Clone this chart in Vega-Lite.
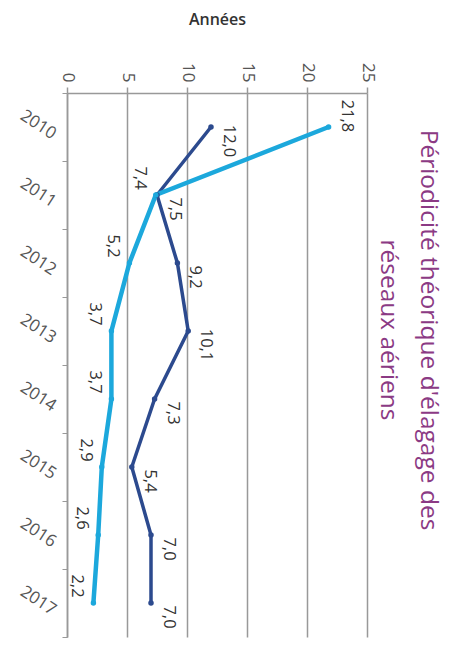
{
  "$schema": "https://vega.github.io/schema/vega-lite/v6.json",
  "width": 300,
  "height": 544,
  "autosize": {"type": "none"},
  "padding": {"left": 67, "top": 93, "right": 95, "bottom": 15},
  "background": "white",
  "config": {
    "locale": {"number": {"decimal": ",", "thousands": " ", "grouping": [3], "currency": ["", " €"]}},
    "view": {"stroke": null},
    "font": "Open Sans"
  },
  "title": {
    "text": ["Périodicité théorique d'élagage des", "réseaux aériens"],
    "orient": "right",
    "anchor": "middle",
    "fontSize": 24.5,
    "font": "Open Sans",
    "fontWeight": "normal",
    "color": "#8B3A84",
    "offset": -1,
    "lineHeight": 40,
    "dx": -35
  },
  "data": {
    "values": [
      {"year": "2010", "serie": "serie1", "value": 12.0},
      {"year": "2011", "serie": "serie1", "value": 7.5},
      {"year": "2012", "serie": "serie1", "value": 9.2},
      {"year": "2013", "serie": "serie1", "value": 10.1},
      {"year": "2014", "serie": "serie1", "value": 7.3},
      {"year": "2015", "serie": "serie1", "value": 5.4},
      {"year": "2016", "serie": "serie1", "value": 7.0},
      {"year": "2017", "serie": "serie1", "value": 7.0},
      {"year": "2010", "serie": "serie2", "value": 21.8},
      {"year": "2011", "serie": "serie2", "value": 7.4},
      {"year": "2012", "serie": "serie2", "value": 5.2},
      {"year": "2013", "serie": "serie2", "value": 3.7},
      {"year": "2014", "serie": "serie2", "value": 3.7},
      {"year": "2015", "serie": "serie2", "value": 2.9},
      {"year": "2016", "serie": "serie2", "value": 2.6},
      {"year": "2017", "serie": "serie2", "value": 2.2}
    ]
  },
  "encoding": {
    "x": {
      "field": "value",
      "type": "quantitative",
      "scale": {"domain": [0, 25], "nice": false},
      "axis": {
        "orient": "top",
        "values": [0, 5, 10, 15, 20, 25],
        "title": "Années",
        "titleFontSize": 16,
        "titleFontWeight": 600,
        "titleColor": "#333333",
        "titlePadding": 35,
        "labelAngle": 90,
        "labelAlign": "right",
        "labelBaseline": "middle",
        "labelFontSize": 17,
        "labelColor": "#555555",
        "labelPadding": 5,
        "tickSize": 6,
        "tickColor": "#999999",
        "tickWidth": 1.5,
        "domainColor": "#999999",
        "domainWidth": 1.5,
        "grid": true,
        "gridColor": "#999999",
        "gridWidth": 1.5
      }
    },
    "y": {
      "field": "year",
      "type": "nominal",
      "scale": {"type": "band", "paddingInner": 0, "paddingOuter": 0},
      "axis": {
        "orient": "left",
        "title": null,
        "labelAngle": 33,
        "labelAlign": "right",
        "labelBaseline": "middle",
        "labelOffset": 8,
        "labelPadding": 8,
        "labelFontSize": 17,
        "labelColor": "#555555",
        "tickBand": "extent",
        "tickSize": 5,
        "tickColor": "#999999",
        "domainColor": "#999999",
        "domainWidth": 1.5,
        "grid": false
      }
    }
  },
  "layer": [
    {
      "mark": {"type": "line"},
      "encoding": {
        "color": {"field": "serie", "type": "nominal", "scale": {"domain": ["serie1", "serie2"], "range": ["#2C4A8E", "#1CA8DC"]}, "legend": null},
        "strokeWidth": {"field": "serie", "type": "nominal", "scale": {"domain": ["serie1", "serie2"], "range": [3.5, 4.5]}, "legend": null}
      }
    },
    {
      "mark": {"type": "point", "filled": true, "size": 30, "opacity": 1},
      "encoding": {
        "color": {"field": "serie", "type": "nominal", "scale": {"domain": ["serie1", "serie2"], "range": ["#2C4A8E", "#1CA8DC"]}, "legend": null}
      }
    },
    {
      "transform": [{"filter": "datum.serie == 'serie1'"}],
      "mark": {"type": "text", "angle": 90, "align": "center", "baseline": "bottom", "dx": 14, "dy": -10, "fontSize": 16.5, "color": "#333333"},
      "encoding": {"text": {"field": "value", "type": "quantitative", "format": ".1f"}}
    },
    {
      "transform": [{"filter": "datum.serie == 'serie2' && datum.value < 20"}],
      "mark": {"type": "text", "angle": 90, "align": "center", "baseline": "top", "dx": -17, "dy": 8, "fontSize": 16.5, "color": "#333333"},
      "encoding": {"text": {"field": "value", "type": "quantitative", "format": ".1f"}}
    },
    {
      "transform": [{"filter": "datum.serie == 'serie2' && datum.value >= 20"}],
      "mark": {"type": "text", "angle": 90, "align": "center", "baseline": "bottom", "dx": -11, "dy": -10, "fontSize": 16.5, "color": "#333333"},
      "encoding": {"text": {"field": "value", "type": "quantitative", "format": ".1f"}}
    }
  ]
}
